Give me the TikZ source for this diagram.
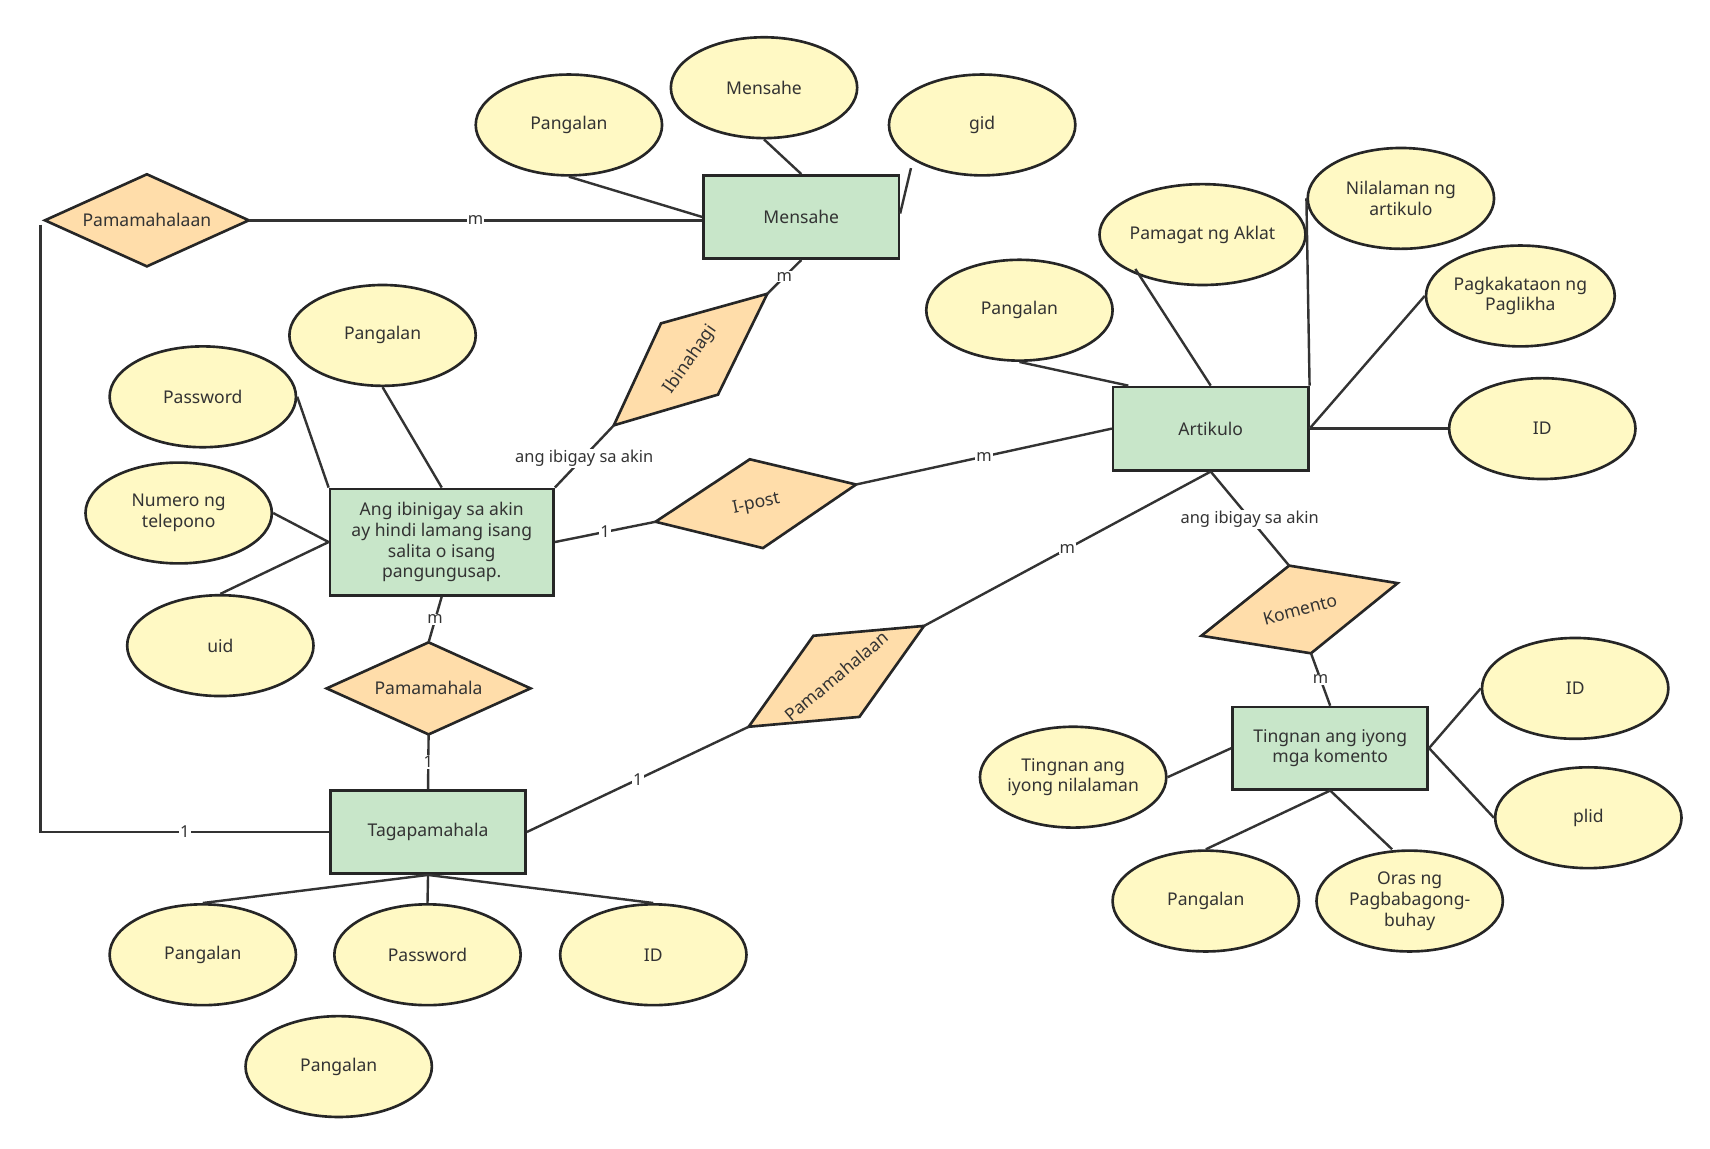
\documentclass[tikz,border=0pt]{standalone}
\usepackage{fontspec}
\setmainfont{Noto Sans}
\usetikzlibrary{shapes.geometric,calc}
\definecolor{attrfill}{HTML}{FFF9C4}
\definecolor{entfill}{HTML}{C8E6C9}
\definecolor{relfill}{HTML}{FFDDAA}
\begin{document}
\begin{tikzpicture}[x=1pt,y=-1pt,
  ln/.style={draw=black!80, line width=2.2pt},
  attr/.style={ellipse, draw=black!85, line width=2.4pt, fill=attrfill, minimum width=170pt, minimum height=92pt, inner sep=0pt, align=center, font=\fontsize{16}{19}\selectfont, text=black!80},
  ent/.style={rectangle, draw=black!85, line width=2.4pt, fill=entfill, minimum width=178pt, minimum height=76pt, inner sep=2pt, align=center, font=\fontsize{16}{19}\selectfont, text=black!80},
  rel/.style={draw=black!85, line width=2.4pt, fill=relfill},
  rtxt/.style={font=\fontsize{16}{19}\selectfont, text=black!80},
  lab/.style={fill=white, inner sep=1pt, font=\fontsize{15}{18}\selectfont, text=black!80}]
\useasboundingbox (0,0) rectangle (1560,1048);
% entities
\node[ent] (mens) at (731,198) {Mensahe};
\node[ent] (art) at (1104.5,391) {Artikulo};
\node[ent, minimum width=204pt, minimum height=97pt] (ang) at (403,494.5) {Ang ibinigay sa akin\\ay hindi lamang isang\\salita o isang\\pangungusap.};
\node[ent] (tag) at (390.5,759) {Tagapamahala};
\node[ent, minimum height=75pt] (ting) at (1213.5,682.5) {Tingnan ang iyong\\mga komento};
% attributes
\node[attr] (a1) at (519,114) {Pangalan};
\node[attr] (a2) at (697,80) {Mensahe};
\node[attr] (a3) at (896,114) {gid};
\node[attr] (b1) at (349,306) {Pangalan};
\node[attr] (b2) at (185,362) {Password};
\node[attr] (b3) at (163,468) {Numero ng\\telepono};
\node[attr] (b4) at (201,589) {uid};
\node[attr] (c1) at (930,283) {Pangalan};
\node[attr] (c2) at (1097,214) {Pamagat ng Aklat};
\node[attr] (c3) at (1278,181) {Nilalaman ng\\artikulo};
\node[attr] (c4) at (1387,270) {Pagkakataon ng\\Paglikha};
\node[attr] (c5) at (1407,391) {ID};
\node[attr] (d1) at (1437,628) {ID};
\node[attr] (d2) at (1449,746) {plid};
\node[attr] (d3) at (979,709) {Tingnan ang\\iyong nilalaman};
\node[attr] (d4) at (1100,822) {Pangalan};
\node[attr] (d5) at (1286,822) {Oras ng\\Pagbabagong-\\buhay};
\node[attr] (e1) at (185,871) {Pangalan};
\node[attr] (e2) at (390,871) {Password};
\node[attr] (e3) at (596,871) {ID};
\node[attr] (e4) at (309,973) {Pangalan};
% relationships
\coordinate (p1l) at (41,201); \coordinate (p1r) at (227,201);
\draw[rel] (p1l) -- (134,159) -- (p1r) -- (134,243) -- cycle;
\node[rtxt] (p1) at (134,201) {Pamamahalaan};
\coordinate (p2t) at (391,586); \coordinate (p2b) at (391,670);
\draw[rel] (298,628) -- (p2t) -- (484,628) -- (p2b) -- cycle;
\node[rtxt] (p2) at (391,628) {Pamamahala};
\coordinate (ipl) at (598,476); \coordinate (ipr) at (781,442);
\draw[rel] (ipl) -- (684,419) -- (ipr) -- (696,500) -- cycle;
\node[rtxt, rotate=12] (ip) at (690,460) {I-post};
\coordinate (ibb) at (560,388); \coordinate (ibt) at (700,268);
\draw[rel] (ibb) -- (603,295) -- (ibt) -- (655,360) -- cycle;
\node[rtxt, rotate=55] (ib) at (630,328) {Ibinahagi};
\coordinate (pml) at (683,663); \coordinate (pmr) at (843,571);
\draw[rel] (pml) -- (742,580) -- (pmr) -- (784,654) -- cycle;
\node[rtxt, rotate=40] (pm) at (763,617) {Pamamahalaan};
\coordinate (kt) at (1176,516); \coordinate (kb) at (1196,596);
\draw[rel] (1096,580) -- (kt) -- (1275,532) -- (kb) -- cycle;
\node[rtxt, rotate=15] (ko) at (1186,556) {Komento};
% relationship connectors
\draw[ln] (p1r) -- node[lab]{m} (p1r -| mens.west);
\coordinate (lc) at (37,759);
\draw[ln] (37,205) -- (lc) -- node[lab, pos=0.5]{1} (tag.west);
\draw[ln] (mens.south) -- node[lab]{m} (ibt);
\draw[ln] (ibb) -- (ang.north east);
\node[lab] at (533,418) {ang ibigay sa akin};
\draw[ln] (ang.east) -- node[lab]{1} (ipl);
\draw[ln] (ipr) -- node[lab]{m} (art.west);
\draw[ln] (ang.south) -- node[lab]{m} (p2t);
\draw[ln] (p2b) -- node[lab]{1} (tag.north);
\draw[ln] (tag.east) -- node[lab]{1} (pml);
\draw[ln] (pmr) -- node[lab]{m} (art.south);
\draw[ln] (art.south) -- (kt);
\node[lab] at (1140,474) {ang ibigay sa akin};
\draw[ln] (kb) -- node[lab]{m} (ting.north);
% attribute connectors
\draw[ln] (a1.south) -- (mens.west);
\draw[ln] (a2.south) -- (mens.north);
\draw[ln] ($(a3.south west)+(-4,6)$) -- ($(mens.north east)+(0,36)$);
\draw[ln] (b2.east) -- (ang.north west);
\draw[ln] (b1.south) -- (ang.north);
\draw[ln] (b3.east) -- (ang.west);
\draw[ln] (b4.north) -- (ang.west);
\draw[ln] (c1.south) -- ($(art.north west)+(15,0)$);
\draw[ln] ($(c2.south west)+(6,-2)$) -- (art.north);
\draw[ln] (c3.west) -- (art.north east);
\draw[ln] (c4.west) -- (art.east);
\draw[ln] (c5.west) -- (art.east);
\draw[ln] (d1.west) -- (ting.east);
\draw[ln] (d2.west) -- (ting.east);
\draw[ln] (d3.east) -- (ting.west);
\draw[ln] (d4.north) -- (ting.south);
\draw[ln] ($(d5.north)+(-16,0)$) -- (ting.south);
\draw[ln] (e1.north) -- (tag.south);
\draw[ln] (e2.north) -- (tag.south);
\draw[ln] (e3.north) -- (tag.south);
\end{tikzpicture}
\end{document}
